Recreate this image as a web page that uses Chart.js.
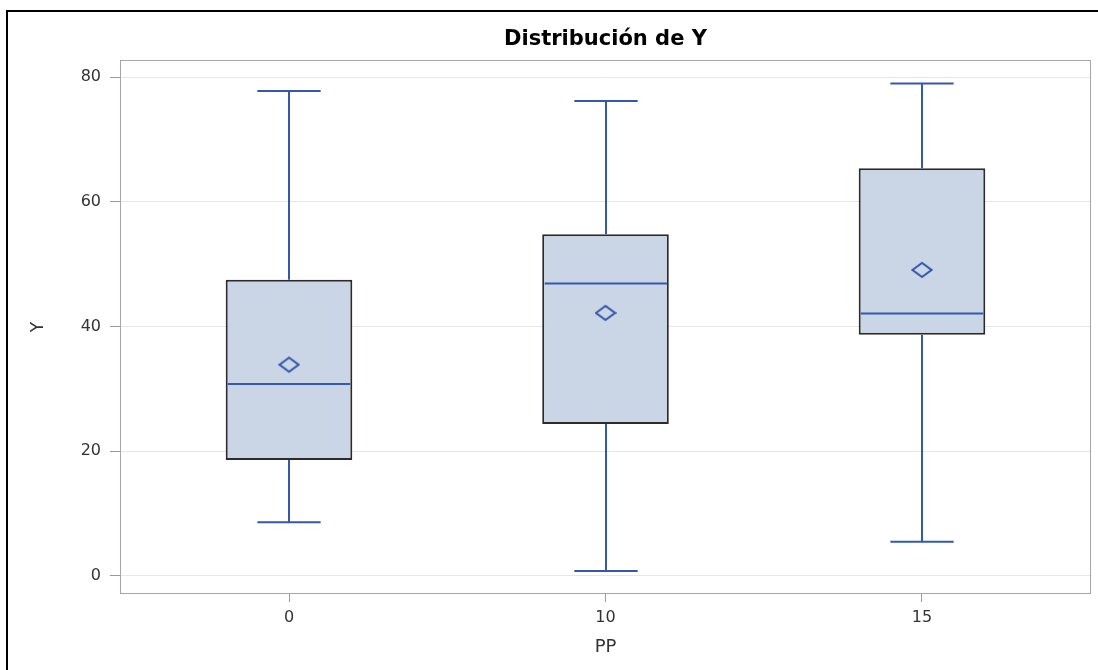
<!DOCTYPE html>
<html>
<head>
<meta charset="utf-8">
<script src="https://cdn.jsdelivr.net/npm/chart.js@4.4.1/dist/chart.umd.min.js"></script>
<style>
  html, body { margin: 0; padding: 0; background: #fff; }
  #wrap { position: relative; width: 1098px; height: 670px; overflow: hidden; }
  #frame { position: absolute; left: 6px; top: 10px; width: 1200px; height: 800px;
           border-left: 2px solid #000; border-top: 2px solid #000; }
  canvas { position: absolute; left: 0; top: 0; }
</style>
</head>
<body>
<div id="wrap">
  <div id="frame"></div>
  <canvas id="c" width="1098" height="670"></canvas>
</div>
<script>
// ---- data ----
const categories   = ['0', '10', '15'];
const whiskerLow   = [8.6, 0.8, 5.5];
const quartile1    = [18.6, 24.4, 38.7];
const medians      = [30.8, 46.9, 42.1];
const quartile3    = [47.5, 54.8, 65.4];
const whiskerHigh  = [77.8, 76.2, 79.0];
const means        = [33.9, 42.2, 49.1];
const yTickValues  = [0, 20, 40, 60, 80];

const BLUE = '#3558ad';
const FONT = "'DejaVu Sans', sans-serif";

// mean marker (diamond) as a small image point style
const diamond = document.createElement('canvas');
diamond.width = 22; diamond.height = 18;
(function () {
  const g = diamond.getContext('2d');
  g.strokeStyle = BLUE; g.lineWidth = 2;
  g.beginPath();
  g.moveTo(1.5, 9); g.lineTo(11, 2); g.lineTo(20.5, 9); g.lineTo(11, 16); g.closePath();
  g.stroke();
})();

const boxData  = categories.map((c, i) => ({ x: i, y: [quartile1[i], quartile3[i]] }));
const meanData = categories.map((c, i) => ({ x: i, y: means[i] }));

const framePlugin = {
  id: 'frame',
  afterDraw(chart) {
    const a = chart.chartArea, ctx = chart.ctx;
    ctx.save();
    ctx.strokeStyle = '#a3a7ab'; ctx.lineWidth = 1;
    ctx.strokeRect(Math.round(a.left) + 0.5, Math.round(a.top) + 0.5,
                   Math.round(a.right - a.left) - 1, Math.round(a.bottom - a.top) - 1);
    ctx.restore();
  }
};

const whiskerPlugin = {
  id: 'whiskers',
  afterDatasetsDraw(chart) {
    const xs = chart.scales.x, ys = chart.scales.y, ctx = chart.ctx;
    const bars = chart.getDatasetMeta(0).data;
    ctx.save();
    ctx.strokeStyle = BLUE; ctx.lineWidth = 2;
    categories.forEach((c, i) => {
      const x = Math.round(xs.getPixelForValue(i));
      const w = bars[i].width;
      const cap = w / 4;
      const yLo = ys.getPixelForValue(whiskerLow[i]);
      const yQ1 = ys.getPixelForValue(quartile1[i]);
      const yQ3 = ys.getPixelForValue(quartile3[i]);
      const yHi = ys.getPixelForValue(whiskerHigh[i]);
      const yMd = ys.getPixelForValue(medians[i]);
      ctx.beginPath();
      ctx.moveTo(x, yQ1); ctx.lineTo(x, yLo);
      ctx.moveTo(x - cap, yLo); ctx.lineTo(x + cap, yLo);
      ctx.moveTo(x, yQ3); ctx.lineTo(x, yHi);
      ctx.moveTo(x - cap, yHi); ctx.lineTo(x + cap, yHi);
      ctx.moveTo(x - w / 2 + 2, yMd); ctx.lineTo(x + w / 2 - 2, yMd);
      ctx.stroke();
    });
    ctx.restore();
  }
};

new Chart(document.getElementById('c'), {
  type: 'bar',
  data: {
    datasets: [
      {
        type: 'bar',
        data: boxData,
        backgroundColor: '#cad5e5',
        borderColor: '#2b2b2b',
        borderWidth: 2,
        borderSkipped: false,
        barPercentage: 0.4,
        categoryPercentage: 1.0,
        order: 2
      },
      {
        type: 'scatter',
        data: meanData,
        pointStyle: diamond,
        pointRadius: 1,
        pointBorderWidth: 0,
        order: 1
      }
    ]
  },
  options: {
    responsive: false,
    animation: false,
    events: [],
    layout: { padding: { left: 0, right: 7, top: 0, bottom: 0 } },
    plugins: {
      legend: { display: false },
      tooltip: { enabled: false },
      title: {
        display: true,
        text: 'Distribución de Y',
        fullSize: false,
        color: '#000',
        font: { family: FONT, size: 21, weight: 'bold', lineHeight: 1.2 },
        padding: { top: 27, bottom: 7.8 }
      }
    },
    scales: {
      x: {
        type: 'linear',
        position: 'bottom',
        offset: false,
        min: -0.534,
        max: 2.534,
        afterBuildTicks: s => { s.ticks = categories.map((c, i) => ({ value: i })); },
        afterFit: s => { s.height = 76; s.paddingLeft = 0; s.paddingRight = 0; },
        ticks: {
          callback: v => categories[v],
          color: '#333',
          font: { family: FONT, size: 16 },
          padding: 6,
          autoSkip: false,
          maxRotation: 0
        },
        grid: { offset: false, drawOnChartArea: false, drawTicks: true, tickLength: 8, tickColor: '#9a9a9a', lineWidth: 1 },
        border: { display: false },
        title: {
          display: true, text: 'PP', color: '#333',
          font: { family: FONT, size: 18, lineHeight: 1.2 },
          padding: { top: 0, bottom: 12 }
        }
      },
      y: {
        type: 'linear',
        min: -2.89,
        max: 82.77,
        afterBuildTicks: s => { s.ticks = yTickValues.map(v => ({ value: v })); },
        afterFit: s => { s.width = 120; s.paddingTop = 0; s.paddingBottom = 0; },
        ticks: {
          color: '#333',
          font: { family: FONT, size: 16 },
          padding: 9
        },
        grid: { color: '#e6e6e6', tickColor: '#9a9a9a', tickLength: 10, lineWidth: 1 },
        border: { display: false },
        title: {
          display: true, text: 'Y', color: '#333',
          font: { family: FONT, size: 17, lineHeight: 1.2 },
          padding: { top: 28, bottom: 0 }
        }
      }
    }
  },
  plugins: [framePlugin, whiskerPlugin]
});
</script>
</body>
</html>
